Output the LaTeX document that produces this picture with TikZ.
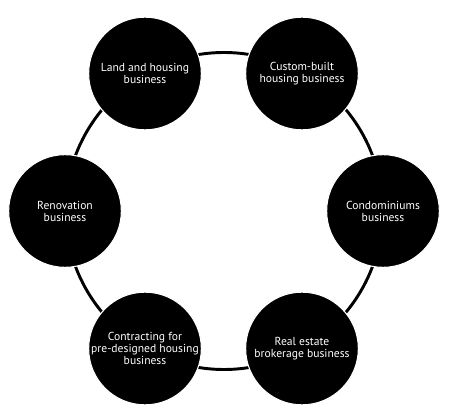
\documentclass[tikz,border=0pt]{standalone}
\usepackage{fontspec}
\setsansfont{PT Sans}
\tikzset{every picture/.style={line width=0.75pt}}
\tikzset{
	biz/.style={circle, fill=black, draw=white, line width=0.8pt, minimum size=84.5pt, inner sep=0pt,
		text=white, align=center, font=\sffamily\fontsize{8.7}{9}\selectfont}}

\begin{document}
\begin{tikzpicture}[x=0.75pt,y=0.75pt,yscale=-1,xscale=1]
	\useasboundingbox (0,0) rectangle (450,420);

	%Shape: Circle [ring]
	\draw [line width=2.2pt] (224,211) circle [radius=158.5];

	% Business nodes
	\node [biz] (land) at (145,73.5) {Land and housing\\business};
	\node [biz] (custom) at (302,73.5) {Custom-built\\housing business};
	\node [biz] (condo) at (383,211) {Condominiums\\business};
	\node [biz] (broker) at (302,348.5) {Real estate\\brokerage business};
	\node [biz] (contract) at (145,348.5) {Contracting for\\pre-designed housing\\business};
	\node [biz] (renov) at (65,211) {Renovation\\business};

\end{tikzpicture}
\end{document}
